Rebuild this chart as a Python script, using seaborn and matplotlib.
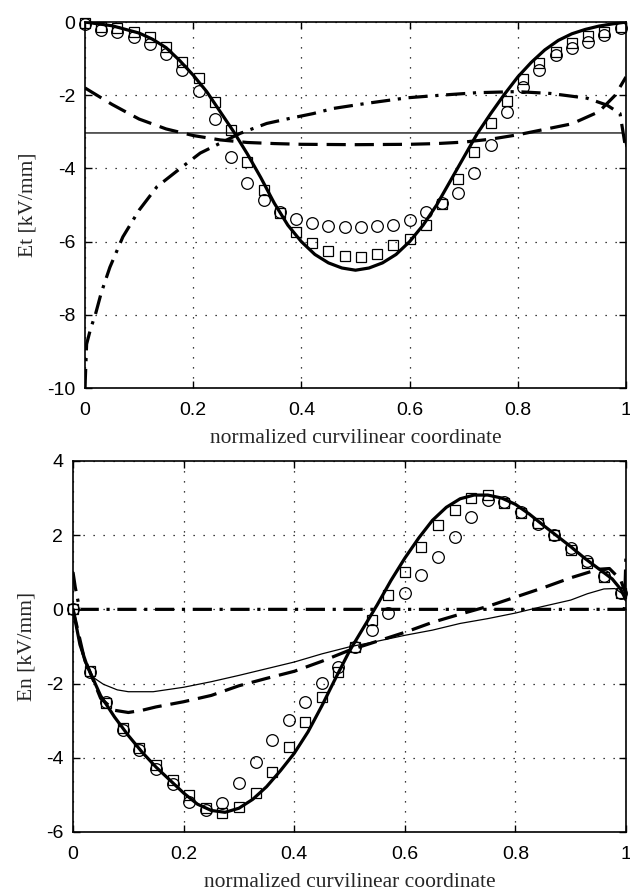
import numpy as np
import pandas as pd
import matplotlib
matplotlib.use("Agg")
import matplotlib.pyplot as plt
import seaborn as sns

# ---- Et (tangential field) ----
x_mark = [0.00, 0.03, 0.06, 0.09, 0.12, 0.15, 0.18, 0.21, 0.24, 0.27, 0.30, 0.33,
          0.36, 0.39, 0.42, 0.45, 0.48, 0.51, 0.54, 0.57, 0.60, 0.63, 0.66, 0.69,
          0.72, 0.75, 0.78, 0.81, 0.84, 0.87, 0.90, 0.93, 0.96, 0.99]

et_squares = [-0.03, -0.14, -0.16, -0.27, -0.42, -0.68, -1.08, -1.53, -2.18, -2.95, -3.83, -4.6,
              -5.22, -5.74, -6.04, -6.25, -6.4, -6.42, -6.33, -6.1, -5.93, -5.55, -4.98, -4.3,
              -3.55, -2.75, -2.15, -1.55, -1.12, -0.82, -0.56, -0.37, -0.27, -0.14]
et_circles = [-0.05, -0.22, -0.27, -0.41, -0.6, -0.86, -1.31, -1.88, -2.65, -3.68, -4.4, -4.86,
              -5.2, -5.38, -5.5, -5.56, -5.6, -5.6, -5.58, -5.55, -5.41, -5.2, -4.95, -4.67,
              -4.13, -3.36, -2.46, -1.77, -1.31, -0.9, -0.71, -0.54, -0.36, -0.17]

et_thick_x = [0.0, 0.025, 0.05, 0.075, 0.1, 0.125, 0.15, 0.175, 0.2, 0.225, 0.25, 0.275, 0.3,
              0.325, 0.35, 0.375, 0.4, 0.425, 0.45, 0.475, 0.5, 0.525, 0.55, 0.575, 0.6, 0.625,
              0.65, 0.675, 0.7, 0.725, 0.75, 0.775, 0.8, 0.825, 0.85, 0.875, 0.9, 0.925, 0.95,
              0.975, 1.0]
et_thick = [0.0, -0.05, -0.1, -0.2, -0.3, -0.47, -0.7, -1.05, -1.45, -1.9, -2.45, -3.0, -3.6,
            -4.25, -4.95, -5.55, -6.0, -6.35, -6.58, -6.72, -6.78, -6.72, -6.58, -6.35, -6.0, -5.55,
            -5.0, -4.35, -3.7, -3.05, -2.5, -1.98, -1.5, -1.1, -0.76, -0.5, -0.32, -0.2, -0.11,
            -0.05, 0.0]

et_thin_x = [0.0, 0.995, 1.0]
et_thin = [-3.03, -3.03, -3.4]

et_dash_x = [0.0, 0.05, 0.1, 0.15, 0.2, 0.25, 0.3, 0.35, 0.4, 0.5, 0.6, 0.65, 0.7, 0.75,
             0.8, 0.85, 0.9, 0.95, 0.98, 1.0]
et_dash = [-1.8, -2.25, -2.65, -2.92, -3.1, -3.22, -3.29, -3.32, -3.34, -3.35, -3.34, -3.32,
           -3.28, -3.2, -3.08, -2.93, -2.78, -2.45, -2.0, -1.5]

et_dd_x = [0.0, 0.003, 0.01, 0.02, 0.03, 0.046, 0.07, 0.1, 0.133, 0.176, 0.213, 0.243, 0.287,
           0.336, 0.379, 0.422, 0.459, 0.521, 0.595, 0.656, 0.724, 0.798, 0.86, 0.928, 0.965,
           0.989, 1.0]
et_dd = [-10.0, -8.8, -8.4, -7.95, -7.4, -6.7, -5.87, -5.14, -4.5, -4.0, -3.58, -3.36, -3.04,
         -2.77, -2.63, -2.5, -2.36, -2.22, -2.07, -2.0, -1.93, -1.9, -1.95, -2.08, -2.27,
         -2.5, -3.5]

# ---- En (normal field) ----
en_squares = [0.0, -1.65, -2.52, -3.2, -3.74, -4.2, -4.6, -5.0, -5.35, -5.49, -5.33, -4.95,
              -4.38, -3.71, -3.03, -2.36, -1.69, -1.01, -0.3, 0.39, 1.0, 1.68, 2.27, 2.68,
              3.0, 3.08, 2.87, 2.6, 2.33, 2.0, 1.6, 1.25, 0.88, 0.44]
en_circles = [0.0, -1.69, -2.5, -3.25, -3.8, -4.3, -4.7, -5.2, -5.4, -5.22, -4.68, -4.11,
              -3.52, -2.98, -2.5, -1.98, -1.55, -1.01, -0.56, -0.1, 0.44, 0.93, 1.42, 1.95,
              2.49, 2.95, 2.9, 2.62, 2.3, 2.0, 1.65, 1.3, 0.9, 0.45]

en_thick_x = [0.0, 0.0125, 0.025, 0.05, 0.075, 0.1, 0.125, 0.15, 0.175, 0.2, 0.225, 0.25,
              0.275, 0.3, 0.325, 0.35, 0.375, 0.4, 0.425, 0.45, 0.475, 0.5, 0.525, 0.55,
              0.575, 0.6, 0.625, 0.65, 0.675, 0.7, 0.725, 0.75, 0.775, 0.8, 0.825, 0.85,
              0.875, 0.9, 0.925, 0.95, 0.975, 0.99, 1.0]
en_thick = [0.0, -0.95, -1.5, -2.33, -2.9, -3.4, -3.85, -4.25, -4.6, -4.95, -5.25, -5.42,
            -5.47, -5.36, -5.12, -4.78, -4.35, -3.88, -3.3, -2.6, -1.85, -1.12, -0.5, 0.12,
            0.78, 1.38, 1.92, 2.4, 2.75, 2.98, 3.08, 3.08, 3.0, 2.83, 2.57, 2.27,
            1.98, 1.69, 1.38, 1.1, 0.82, 0.55, 0.25]

en_thin_x = [0.0, 0.01, 0.02, 0.035, 0.055, 0.08, 0.1, 0.145, 0.2, 0.25, 0.3, 0.35, 0.4,
             0.45, 0.5, 0.55, 0.6, 0.65, 0.7, 0.75, 0.8, 0.85, 0.9, 0.93, 0.96, 0.98, 1.0]
en_thin = [0.0, -0.8, -1.4, -1.82, -2.02, -2.17, -2.22, -2.22, -2.1, -1.95, -1.78, -1.6, -1.42,
           -1.2, -1.01, -0.86, -0.7, -0.56, -0.38, -0.25, -0.1, 0.08, 0.25, 0.42, 0.55, 0.56, 0.35]

en_dash_x = [0.0, 0.02, 0.05, 0.075, 0.1, 0.125, 0.15, 0.2, 0.25, 0.3, 0.35, 0.4, 0.45, 0.5,
             0.55, 0.6, 0.65, 0.7, 0.75, 0.8, 0.85, 0.9, 0.95, 0.97, 0.99, 1.0]
en_dash = [0.0, -1.3, -2.4, -2.72, -2.78, -2.72, -2.63, -2.49, -2.32, -2.06, -1.86, -1.67,
           -1.4, -1.1, -0.86, -0.62, -0.35, -0.13, 0.08, 0.33, 0.58, 0.85, 1.08, 1.1, 0.8, 0.4]

en_dd_x = [0.0, 0.004, 0.012, 0.997, 1.0]
en_dd = [1.0, 0.6, 0.0, 0.0, 1.5]

sns.set_style("ticks")
plt.rcParams['font.family'] = ['Liberation Sans', 'DejaVu Sans']

fig = plt.figure(figsize=(6.3, 8.9), dpi=100)
ax1 = fig.add_axes([0.1349, 0.564, 0.8587, 0.4112])
ax2 = fig.add_axes([0.1159, 0.0652, 0.8778, 0.4169])

THICK = 2.3
dash_style = (0, (6, 2.8))
dashdot_style = (0, (6, 2.4, 1, 2.4))


def draw_panel(ax, thick_x, thick, thin_x, thin, dash_x, dash, dd_x, dd, sq, circ):
    sns.lineplot(x=thick_x, y=thick, ax=ax, color='k', linewidth=THICK, sort=False, zorder=4)
    sns.lineplot(x=thin_x, y=thin, ax=ax, color='k', linewidth=0.9, sort=False, zorder=4)
    sns.lineplot(x=dash_x, y=dash, ax=ax, color='k', linewidth=THICK, sort=False,
                 linestyle=dash_style, zorder=4)
    sns.lineplot(x=dd_x, y=dd, ax=ax, color='k', linewidth=THICK, sort=False,
                 linestyle=dashdot_style, zorder=4)
    sns.lineplot(x=x_mark, y=sq, ax=ax, color='k', linestyle='', marker='s', markersize=7.4,
                 markerfacecolor='none', markeredgecolor='k', markeredgewidth=0.9,
                 sort=False, zorder=5, clip_on=False)
    sns.lineplot(x=x_mark, y=circ, ax=ax, color='k', linestyle='', marker='o', markersize=8.4,
                 markerfacecolor='none', markeredgecolor='k', markeredgewidth=0.9,
                 sort=False, zorder=5, clip_on=False)


draw_panel(ax1, et_thick_x, et_thick, et_thin_x, et_thin, et_dash_x, et_dash,
           et_dd_x, et_dd, et_squares, et_circles)
draw_panel(ax2, en_thick_x, en_thick, en_thin_x, en_thin, en_dash_x, en_dash,
           en_dd_x, en_dd, en_squares, en_circles)

ax1.set_ylim(-10, 0)
ax1.set_yticks([-10, -8, -6, -4, -2, 0])
ax1.set_yticklabels(['-10', '-8', '-6', '-4', '-2', '0'])
ax1.set_ylabel('Et [kV/mm]', family='Liberation Serif', fontsize=15.5, labelpad=7)

ax2.set_ylim(-6, 4)
ax2.set_yticks([-6, -4, -2, 0, 2, 4])
ax2.set_yticklabels(['-6', '-4', '-2', '0', '2', '4'])
ax2.set_ylabel('En [kV/mm]', family='Liberation Serif', fontsize=15.5, labelpad=7)

for ax in (ax1, ax2):
    ax.set_xlim(0, 1)
    ax.set_xticks([0, 0.2, 0.4, 0.6, 0.8, 1])
    ax.set_xticklabels(['0', '0.2', '0.4', '0.6', '0.8', '1'])
    ax.set_xlabel('normalized curvilinear coordinate', family='Liberation Serif',
                  fontsize=15.5, labelpad=7)
    ax.grid(True, color='k', linestyle=(0, (1, 7)), linewidth=0.9)
    ax.set_axisbelow(True)
    ax.tick_params(direction='in', length=5, width=1, top=True, right=True,
                   labelsize=14, colors='k')
    ax.tick_params(axis='x', pad=10)
    ax.tick_params(axis='y', pad=7)
    for s in ax.spines.values():
        s.set_visible(True)
        s.set_linewidth(1.2)
        s.set_color('k')

fig.savefig('out.png', dpi=100, facecolor='white')
